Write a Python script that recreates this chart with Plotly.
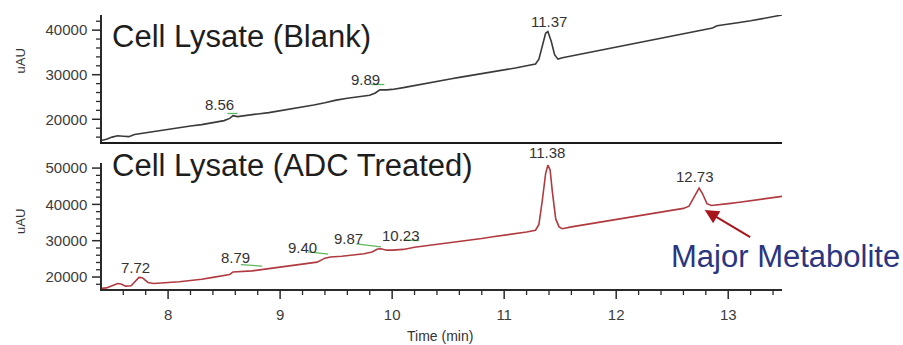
import plotly.graph_objects as go

# ---------------- data ----------------
blank_time = [7.41, 7.45, 7.50, 7.55, 7.60, 7.65, 7.70, 7.80, 7.90, 8.00, 8.10, 8.20, 8.30, 8.40,
              8.50, 8.55, 8.58, 8.62, 8.70, 8.80, 8.90, 9.00, 9.10, 9.20, 9.30, 9.40, 9.50, 9.60,
              9.70, 9.80, 9.85, 9.89, 9.95, 10.00, 10.10, 10.20, 10.30, 10.40, 10.53, 10.60, 10.70,
              10.80, 10.90, 11.00, 11.10, 11.20, 11.28, 11.31, 11.34, 11.37, 11.39, 11.42, 11.45,
              11.48, 11.52, 11.60, 11.70, 11.80, 11.90, 12.00, 12.10, 12.20, 12.30, 12.40, 12.50,
              12.60, 12.70, 12.80, 12.86, 12.90, 13.00, 13.10, 13.20, 13.30, 13.40, 13.48]
blank_uau = [15300, 15500, 16000, 16300, 16200, 16100, 16600, 17000, 17400, 17800, 18100, 18500,
             18800, 19200, 19700, 20200, 20800, 20600, 20800, 21200, 21500, 21900, 22300, 22700,
             23200, 23700, 24300, 24700, 25000, 25400, 25900, 26600, 26600, 26700, 27100, 27600,
             28100, 28600, 29100, 29400, 29800, 30300, 30700, 31100, 31500, 32000, 32400, 33500,
             36500, 39300, 39700, 37500, 34500, 33500, 33800, 34200, 34700, 35200, 35800, 36300,
             36800, 37300, 37700, 38200, 38700, 39200, 39700, 40200, 40500, 41000, 41300, 41700,
             42100, 42600, 43000, 43400]

adc_time = [7.41, 7.45, 7.50, 7.55, 7.58, 7.62, 7.67, 7.70, 7.74, 7.77, 7.82, 7.87, 7.95, 8.00,
            8.10, 8.20, 8.30, 8.40, 8.50, 8.55, 8.58, 8.65, 8.75, 8.85, 8.95, 9.05, 9.15, 9.25,
            9.33, 9.40, 9.45, 9.55, 9.65, 9.75, 9.82, 9.87, 9.90, 9.95, 10.00, 10.10, 10.20, 10.30,
            10.40, 10.53, 10.60, 10.70, 10.80, 10.90, 11.00, 11.10, 11.20, 11.28, 11.31, 11.34,
            11.37, 11.39, 11.41, 11.43, 11.46, 11.49, 11.52, 11.60, 11.70, 11.80, 11.90, 12.00,
            12.10, 12.20, 12.30, 12.40, 12.50, 12.60, 12.65, 12.70, 12.74, 12.77, 12.81, 12.85,
            12.90, 13.00, 13.10, 13.20, 13.30, 13.40, 13.48]
adc_uau = [16900, 17000, 17600, 18200, 18100, 17500, 17600, 18600, 19900, 19800, 18500, 18200,
           18300, 18500, 18700, 19000, 19400, 19900, 20300, 20700, 21400, 21500, 21700, 22100,
           22500, 22900, 23300, 23700, 24100, 25200, 25500, 25700, 26000, 26400, 26900, 27700,
           27800, 27400, 27400, 27600, 28200, 28600, 29000, 29400, 29700, 30200, 30600, 31100,
           31500, 31900, 32400, 32900, 34500, 41000, 48500, 50800, 49500, 43500, 36000, 33800,
           33300, 33800, 34300, 34800, 35300, 35800, 36300, 36800, 37300, 37900, 38400, 38900,
           39500, 42500, 44500, 43000, 40200, 39700, 39800, 40200, 40600, 41000, 41500, 41900,
           42200]

# peak labels: text, x position, y position
blank_peak_text = ["8.56", "9.89", "11.37"]
blank_peak_x = [8.46, 9.76, 11.40]
blank_peak_y = [23300, 28900, 42000]

adc_peak_text = ["7.72", "8.79", "9.40", "9.87", "10.23", "11.38", "12.73"]
adc_peak_x = [7.71, 8.60, 9.20, 9.61, 10.08, 11.38, 12.70]
adc_peak_y = [22750, 25500, 28260, 30470, 31300, 54160, 47550]

# integration baseline marks (green)
blank_base_x0 = [8.53, 9.81]
blank_base_x1 = [8.62, 9.93]
blank_base_y0 = [21300, 27800]
blank_base_y1 = [21300, 27800]

adc_base_x0 = [8.65, 9.25, 9.68, 10.11]
adc_base_x1 = [8.84, 9.43, 9.90, 10.24]
adc_base_y0 = [23400, 26900, 29100, 30200]
adc_base_y1 = [23000, 26300, 28300, 30000]

# axis ranges and tick positions
x_range = [7.41, 13.48]
blank_range = [14900, 43400]
adc_range = [16700, 51400]

x_major_ticks = [8, 9, 10, 11, 12, 13]
x_minor_ticks = [7.6, 7.8, 8.2, 8.4, 8.6, 8.8, 9.2, 9.4, 9.6, 9.8, 10.2, 10.4, 10.6,
                 10.8, 11.2, 11.4, 11.6, 11.8, 12.2, 12.4, 12.6, 12.8, 13.2, 13.4]
blank_major_ticks = [20000, 30000, 40000]
blank_minor_ticks = [16000, 18000, 22000, 24000, 26000, 28000, 32000, 34000, 36000, 38000,
                     42000]
adc_major_ticks = [20000, 30000, 40000, 50000]
adc_minor_ticks = [18000, 22000, 24000, 26000, 28000, 32000, 34000, 36000, 38000, 42000,
                   44000, 46000, 48000]

FONT = "Liberation Sans, Arial, sans-serif"
TICK_COLOR = "#2a2a2a"

# ---------------- layout geometry (pixels) ----------------
W, H = 903, 345
M_L, M_R, M_T, M_B = 92, 121, 15, 46
PLOT_W = W - M_L - M_R
PLOT_H = H - M_T - M_B
MAJOR_LEN, MINOR_LEN = 10, 6
AXIS_X_PX = 102            # y axes line position
TOP_PX = (15, 142)         # top panel top / bottom
BOT_PX = (163, 289)        # bottom panel top / bottom


def px_x(px):
    return (px - M_L) / PLOT_W


def px_y(py):
    return 1 - (py - M_T) / PLOT_H


MAIN_X_DOMAIN = [px_x(AXIS_X_PX), 1]
YSTRIP_X_DOMAIN = [0, px_x(AXIS_X_PX)]
TOP_DOMAIN = [px_y(TOP_PX[1]), px_y(TOP_PX[0])]
BOT_DOMAIN = [px_y(BOT_PX[1]), px_y(BOT_PX[0])]
XSTRIP_DOMAIN = [0, px_y(BOT_PX[1])]


def dom(v, rng):
    return (v - rng[0]) / (rng[1] - rng[0])


def nolegend(**kw):
    return go.Scatter(showlegend=False, hoverinfo="skip", **kw)


fig = go.Figure()
fig.add_trace(nolegend(x=blank_time, y=blank_uau, mode="lines",
                       line=dict(color="#3a3a3a", width=1.6), xaxis="x", yaxis="y"))
fig.add_trace(nolegend(x=adc_time, y=adc_uau, mode="lines",
                       line=dict(color="#b03a40", width=1.6), xaxis="x2", yaxis="y2"))

for x0, x1, y0, y1 in zip(blank_base_x0, blank_base_x1, blank_base_y0, blank_base_y1):
    fig.add_trace(nolegend(x=[x0, x1], y=[y0, y1], mode="lines",
                           line=dict(color="#5cb85c", width=1.3), xaxis="x", yaxis="y"))
for x0, x1, y0, y1 in zip(adc_base_x0, adc_base_x1, adc_base_y0, adc_base_y1):
    fig.add_trace(nolegend(x=[x0, x1], y=[y0, y1], mode="lines",
                           line=dict(color="#5cb85c", width=1.3), xaxis="x2", yaxis="y2"))

# ---- tick marks drawn in thin strip subplots (pixel-unit ranges) ----
for ticks, length, width in [(x_major_ticks, MAJOR_LEN, 1.5), (x_minor_ticks, MINOR_LEN, 1.3)]:
    xs, ys = [], []
    for v in ticks:
        xs += [v, v, None]
        ys += [0, -length, None]
    fig.add_trace(nolegend(x=xs, y=ys, mode="lines", xaxis="x3", yaxis="y3",
                           line=dict(color=TICK_COLOR, width=width)))

for xa, ya, majors, minors in [("x4", "y4", blank_major_ticks, blank_minor_ticks),
                               ("x5", "y5", adc_major_ticks, adc_minor_ticks)]:
    for ticks, length, width in [(majors, MAJOR_LEN, 1.5), (minors, MINOR_LEN, 1.3)]:
        xs, ys = [], []
        for v in ticks:
            xs += [0, -length, None]
            ys += [v, v, None]
        fig.add_trace(nolegend(x=xs, y=ys, mode="lines", xaxis=xa, yaxis=ya,
                               line=dict(color=TICK_COLOR, width=width)))

annotations = []
for t, x, y in zip(blank_peak_text, blank_peak_x, blank_peak_y):
    annotations.append(dict(x=x, y=dom(y, blank_range), xref="x", yref="y domain", text=t,
                            xanchor="center", yanchor="middle", showarrow=False,
                            font=dict(family=FONT, size=15, color="#333333")))
for t, x, y in zip(adc_peak_text, adc_peak_x, adc_peak_y):
    annotations.append(dict(x=x, y=dom(y, adc_range), xref="x2", yref="y2 domain", text=t,
                            xanchor="center", yanchor="middle", showarrow=False,
                            font=dict(family=FONT, size=15, color="#333333")))

annotations += [
    dict(x=px_x(110), y=px_y(36), xref="paper", yref="paper", xanchor="left",
         yanchor="middle", text="Cell Lysate (Blank)", showarrow=False,
         font=dict(family=FONT, size=31, color="#1e1e1e")),
    dict(x=px_x(110), y=px_y(165), xref="paper", yref="paper", xanchor="left",
         yanchor="middle", text="Cell Lysate (ADC Treated)", showarrow=False,
         font=dict(family=FONT, size=31, color="#1e1e1e")),
    dict(x=12.79, y=38460, xref="x2", yref="y2", ax=47, ay=28, text="",
         showarrow=True, arrowhead=2, arrowsize=1.4, arrowwidth=2, arrowcolor="#a8161c"),
    dict(x=px_x(669), y=px_y(256.7), xref="paper", yref="paper", xanchor="left",
         yanchor="middle", text="Major Metabolite", showarrow=False,
         font=dict(family=FONT, size=31, color="#2b3580")),
    dict(x=px_x(20), y=px_y(61.5), xref="paper", yref="paper", text="uAU", textangle=-90,
         xanchor="center", yanchor="middle",
         showarrow=False, font=dict(family=FONT, size=13, color="#333333")),
    dict(x=px_x(20), y=px_y(222), xref="paper", yref="paper", text="uAU", textangle=-90,
         xanchor="center", yanchor="middle",
         showarrow=False, font=dict(family=FONT, size=13, color="#333333")),
    dict(x=px_x(440), y=px_y(336), xref="paper", yref="paper", text="Time (min)",
         xanchor="center", yanchor="middle",
         showarrow=False, font=dict(family=FONT, size=14, color="#333333")),
]

base_y = dict(showgrid=False, zeroline=False, showline=True, linecolor="#2a2a2a",
              linewidth=1.5, ticks="outside", ticklen=MAJOR_LEN, tickwidth=1.5,
              tickcolor="rgba(0,0,0,0)", dtick=10000, tickformat="d", automargin=False,
              tickfont=dict(family=FONT, size=15, color="#3c3c3c"))
hidden = dict(visible=False, showgrid=False, zeroline=False, automargin=False,
              fixedrange=True)

fig.update_layout(
    width=W, height=H,
    margin=dict(l=M_L, r=M_R, t=M_T, b=M_B, autoexpand=False),
    paper_bgcolor="white", plot_bgcolor="rgba(0,0,0,0)",
    font=dict(family=FONT),
    xaxis=dict(domain=MAIN_X_DOMAIN, anchor="y", range=x_range, showgrid=False,
               zeroline=False, showline=True, linecolor="#1a1a1a", linewidth=2,
               showticklabels=False, ticks="", automargin=False),
    yaxis=dict(domain=TOP_DOMAIN, anchor="x", range=blank_range, **base_y),
    xaxis2=dict(domain=MAIN_X_DOMAIN, anchor="y2", range=x_range, showgrid=False,
                zeroline=False, showline=True, linecolor="#2a2a2a", linewidth=1.5,
                ticks="outside", ticklen=MAJOR_LEN, tickwidth=1.5,
                tickcolor="rgba(0,0,0,0)", dtick=1,
                tickfont=dict(family=FONT, size=15, color="#3c3c3c"),
                ticklabelstandoff=1, automargin=False),
    yaxis2=dict(domain=BOT_DOMAIN, anchor="x2", range=adc_range, **base_y),
    # strip under the bottom x axis for x tick marks
    xaxis3=dict(domain=MAIN_X_DOMAIN, anchor="y3", range=x_range, **hidden),
    yaxis3=dict(domain=XSTRIP_DOMAIN, anchor="x3", range=[-MAJOR_LEN, 0], **hidden),
    # strips left of the y axes for y tick marks
    xaxis4=dict(domain=YSTRIP_X_DOMAIN, anchor="y4", range=[-MAJOR_LEN, 0], **hidden),
    yaxis4=dict(domain=TOP_DOMAIN, anchor="x4", range=blank_range, **hidden),
    xaxis5=dict(domain=YSTRIP_X_DOMAIN, anchor="y5", range=[-MAJOR_LEN, 0], **hidden),
    yaxis5=dict(domain=BOT_DOMAIN, anchor="x5", range=adc_range, **hidden),
    annotations=annotations,
)

fig.write_html("out.html",
               config={"displayModeBar": False},
               post_script="document.body.style.margin='0px';"
                           "document.body.style.overflow='hidden';")
